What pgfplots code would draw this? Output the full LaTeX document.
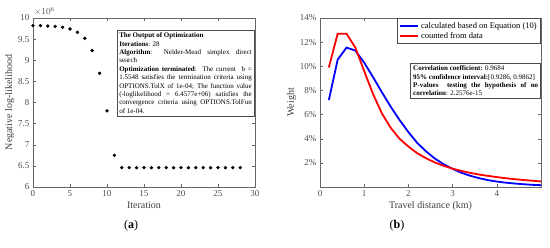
\documentclass[border=0pt]{standalone}
\usepackage{pgfplots}
\pgfplotsset{compat=1.18}
\usepackage{fontspec}
\setmainfont{Liberation Serif}
\begin{document}
\begin{tikzpicture}[x=1pt,y=1pt]
\path[use as bounding box] (0pt,0pt) rectangle (550pt,248pt);
\pgfplotsset{every axis/.append style={
  scale only axis, axis line style={black!60, line width=0.4pt},
  tick style={black!60, line width=0.4pt}, major tick length=3pt,
  tick align=inside,
  ticklabel style={font=\fontsize{9}{10}\selectfont, text=black!70},
  label style={font=\fontsize{10}{11}\selectfont, text=black!75},
  /pgf/number format/assume math mode=true,
}}
% (a)
\begin{axis}[at={(33pt,61pt)}, anchor=south west, width=222pt, height=169pt,
  xmin=0, xmax=30, ymin=6, ymax=10,
  xtick={0,5,...,30}, ytick={6,6.5,...,10},
  yticklabel style={/pgf/number format/fixed},
  xlabel={Iteration}, ylabel={Negative log-likelihood},
  xlabel style={yshift=2pt}, ylabel style={yshift=-3pt},
  clip=false]
\addplot[only marks, mark=*, mark size=1.5pt, black] coordinates {
(0,9.82)(1,9.82)(2,9.81)(3,9.80)(4,9.78)(5,9.74)(6,9.66)(7,9.52)(8,9.23)(9,8.69)(10,7.80)(11,6.75)
(12,6.4577)(13,6.4577)(14,6.4577)(15,6.4577)(16,6.4577)(17,6.4577)(18,6.4577)(19,6.4577)(20,6.4577)
(21,6.4577)(22,6.4577)(23,6.4577)(24,6.4577)(25,6.4577)(26,6.4577)(27,6.4577)(28,6.4577)};
\end{axis}
\node[anchor=south west, inner sep=0pt, font=\fontsize{9}{10}\selectfont, text=black!70] at (34pt,232pt) {$\times 10^{6}$};
\node[draw=black!70, line width=0.6pt, fill=white, anchor=north west, inner sep=2.5pt, text width=132.5pt, align=justify,
  font=\fontsize{7}{8.4}\selectfont] at (116.5pt,218pt) {%
\textbf{The Output of Optimization}\\
\textbf{Iterations}: 28\\
\textbf{Algorithm}: Nelder-Mead simplex direct\linebreak search\\
\textbf{Optimization terminated}:\ \ The current\ \ b =\linebreak 1.5548 satisfies the termination criteria using\linebreak OPTIONS.TolX of 1e-04; The function value\linebreak (-loglikelihood = 6.4577e+06) satisfies the\linebreak convergence criteria using OPTIONS.TolFun\linebreak of 1e-04.};
\node[font=\fontsize{12}{13}\selectfont] at (131pt,22pt) {(\textbf{a})};
% (b)
\begin{axis}[at={(320pt,61pt)}, anchor=south west, width=221pt, height=169pt,
  xmin=0, xmax=5, ymin=0, ymax=14,
  xtick={0,1,2,3,4}, ytick={2,4,...,14},
  yticklabel={\pgfmathprintnumber{\tick}\%},
  xlabel={Travel distance (km)}, ylabel={Weight},
  xlabel style={yshift=2pt}, ylabel style={yshift=-3pt},
  legend style={at={(1,1)}, anchor=north east, draw=black!70, line width=0.5pt,
    font=\fontsize{8.5}{9.5}\selectfont, row sep=-1.5pt, inner sep=2pt, legend cell align=left},
  legend image code/.code={\draw[#1, line width=1.8pt] (0pt,0pt) -- (18pt,0pt);},
  ]
\addplot[blue, line width=1.8pt] coordinates {
(0.2,7.2)(0.4,10.55)(0.6,11.55)(0.8,11.3)(1.0,10.3)(1.2,9.1)(1.4,7.85)(1.6,6.65)(1.8,5.55)(2.0,4.55)
(2.2,3.65)(2.4,2.95)(2.6,2.35)(2.8,1.88)(3.0,1.5)(3.2,1.18)(3.4,0.93)(3.6,0.73)(3.8,0.57)(4.0,0.45)
(4.2,0.36)(4.4,0.29)(4.6,0.23)(4.8,0.18)(5.0,0.15)};
\addlegendentry{calculated based on Equation (10)}
\addplot[red, line width=1.8pt] coordinates {
(0.2,9.9)(0.4,12.7)(0.6,12.7)(0.8,11.55)(1.0,9.6)(1.2,7.7)(1.4,6.1)(1.6,4.9)(1.8,4.0)(2.0,3.35)
(2.2,2.8)(2.4,2.38)(2.6,2.03)(2.8,1.75)(3.0,1.52)(3.2,1.33)(3.4,1.17)(3.6,1.03)(3.8,0.92)(4.0,0.82)
(4.2,0.73)(4.4,0.65)(4.6,0.58)(4.8,0.52)(5.0,0.46)};
\addlegendentry{counted from data}
\end{axis}
\node[draw=black!70, line width=0.6pt, fill=white, anchor=north east, inner sep=2.5pt, text width=125pt, align=justify,
  font=\fontsize{7}{8.4}\selectfont] at (541pt,185pt) {%
\textbf{Correlation coefficient:} 0.9684\\
\textbf{95\% confidence interval:}[0.9286, 0.9862]\\
\textbf{P-values\ \ testing the hypothesis of no}\linebreak \textbf{correlation}: 2.2576e-15};
\node[font=\fontsize{12}{13}\selectfont] at (397pt,22pt) {(\textbf{b})};
\end{tikzpicture}
\end{document}
